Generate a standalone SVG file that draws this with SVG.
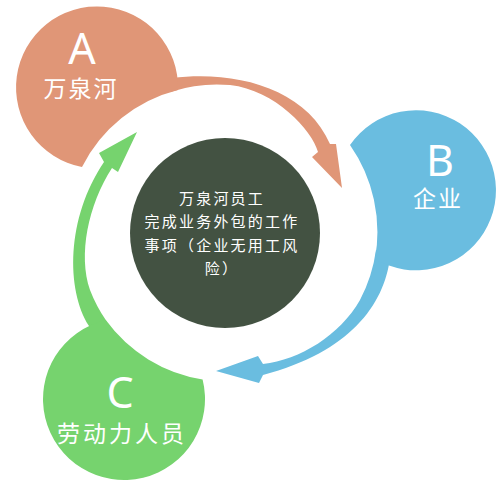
<svg xmlns="http://www.w3.org/2000/svg" width="498" height="483" viewBox="0 0 498 483">
<style>
.orange{fill:#E09677}
.blue{fill:#6ABDE0}
.green{fill:#76D36E}
.big{font-family:"Noto Sans","Liberation Sans",sans-serif;font-size:43px;fill:#fff;text-anchor:middle}
.lbl{font-family:"Noto Sans CJK SC","Noto Sans",sans-serif;font-size:23px;fill:#fff;text-anchor:middle;letter-spacing:2px}
.ctr{font-family:"Noto Sans CJK SC","Noto Sans",sans-serif;font-size:15px;fill:#fff;text-anchor:middle;letter-spacing:2.2px}
</style>
<rect width="498" height="483" fill="#fff"/>
<g id="connectors">
  <path class="orange" d="M172,78 C235,70 306,88 330,144 L336,144 L342,188 L312,157 L318,152 C312,130 275,90 230,85 A148,148 0 0 0 172,91.4 Z"/>
  <path class="blue" d="M376,250 L390,258 C384,305 350,352 263,375 L259,383 L216,371 L258,356 L263,364 C300,360 340,335 360,300 A152,152 0 0 0 376,250 Z"/>
  <path class="green" d="M112,335 L89,326 C66,290 66,218 104,162 L99,153 L137,132 L118,172 L112,168 C88,205 78,255 90,290 A148,148 0 0 0 105.8,320.1 Z"/>
</g>
<g id="node-a">
  <path class="orange" d="M82,167 A81,81 0 1 1 178,90 A148,148 0 0 0 82,167 Z"/>
  <text class="big" x="82" y="64">A</text>
  <text class="lbl" x="81" y="97">万泉河</text>
</g>
<g id="node-b">
  <path class="blue" d="M350,145 A80,80 0 1 1 375,259 A152,152 0 0 0 350,145 Z"/>
  <text class="big" x="440" y="176">B</text>
  <text class="lbl" x="438" y="207">企业</text>
</g>
<g id="node-c">
  <path class="green" d="M202.6,379.4 A81,81 0 1 1 105.8,320.1 A148,148 0 0 0 202.6,379.4 Z"/>
  <text class="big" x="120" y="408">C</text>
  <text class="lbl" x="122" y="442" style="letter-spacing:3px">劳动力人员</text>
</g>
<g id="node-center">
  <circle cx="225" cy="233" r="95" fill="#435242"/>
  <text class="ctr" x="222" y="204">万泉河员工</text>
  <text class="ctr" x="222" y="227">完成业务外包的工作</text>
  <text class="ctr" x="222" y="251">事项（企业无用工风</text>
  <text class="ctr" x="222" y="274">险）</text>
</g>
</svg>
